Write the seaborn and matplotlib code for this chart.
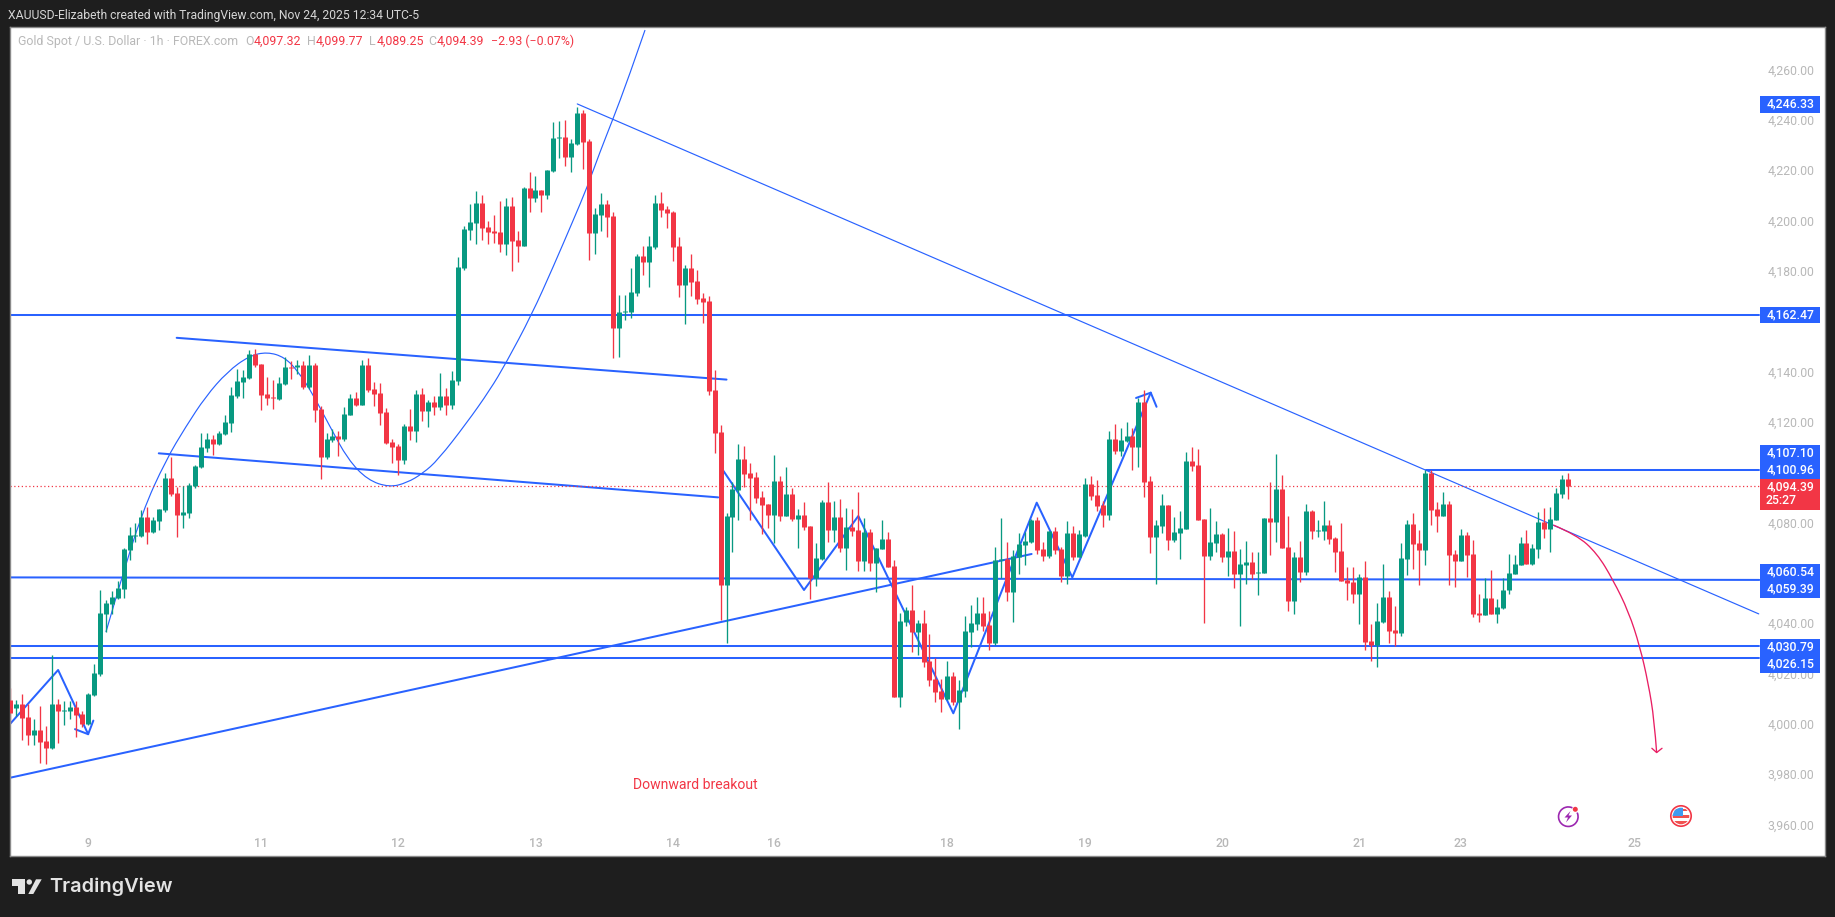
import numpy as np
import pandas as pd
import seaborn as sns
import matplotlib.pyplot as plt
from matplotlib.patches import Rectangle, Circle, Arc, Polygon, PathPatch
from matplotlib.path import Path
from matplotlib.transforms import ScaledTranslation

# hourly candles
opens = [
    4009.5, 4006.5, 4008, 4002.8, 3995.6, 3997.6, 3993.2, 3990.3, 4008, 4005.3,
    4005.3, 4006.7, 4004, 4000, 4011.5, 4019.8, 4043.7, 4047.6, 4050, 4053.6,
    4069.1, 4074.7, 4074.7, 4082.2, 4076.3, 4080.6, 4085, 4097.7, 4091.8, 4083,
    4083.8, 4094.5, 4102.1, 4109.8, 4113.2, 4111.2, 4115.2, 4119.5, 4130.3, 4135.8,
    4137.4, 4147, 4143, 4131.1, 4129.9, 4129.1, 4135, 4141.8, 4141.8, 4142.6,
    4133.8, 4142.6, 4125.1, 4106.2, 4112.8, 4114.4, 4113.2, 4122.7, 4129.5, 4126.7,
    4142.6, 4133.1, 4131.5, 4123.9, 4112, 4110.4, 4104.9, 4118.4, 4116.4, 4131.1,
    4124.3, 4127.9, 4125.9, 4130.3, 4126.7, 4136.2, 4181.1, 4196.2, 4199, 4206.9,
    4197.4, 4195.8, 4195.4, 4190.6, 4205.7, 4192.2, 4189.8, 4212.9, 4208.9, 4212.1,
    4210.1, 4219.6, 4232.6, 4233.2, 4225.2, 4230.4, 4242.7, 4231.6, 4195, 4202.2,
    4206.5, 4201.8, 4157.3, 4163.6, 4163.6, 4171.2, 4185.9, 4183.5, 4189.5, 4206.9,
    4204.5, 4203.4, 4189.8, 4174.4, 4181.1, 4176, 4169.2, 4168, 4132.6, 4116,
    4055.2, 4082.2, 4093, 4105.3, 4099.7, 4098.1, 4090.2, 4087.4, 4083, 4096.5,
    4082.6, 4091.4, 4081.4, 4083, 4078.6, 4058, 4065.5, 4088.2, 4077, 4082.2,
    4069.9, 4078.2, 4077, 4064.7, 4076.3, 4064, 4069.5, 4073.5, 4062.7, 4010.7,
    4040.5, 4045.2, 4036.5, 4040.1, 4025, 4017.8, 4013.1, 4009.9, 4019, 4008.7,
    4013.1, 4036.5, 4039.7, 4044, 4039.3, 4032.2, 4065.1, 4065.5, 4052.4, 4066.3,
    4071.1, 4072.3, 4081, 4069.5, 4066.7, 4076.7, 4069.5, 4058.8, 4075.9, 4066.3,
    4074.7, 4095.3, 4091, 4087, 4083, 4113.2, 4108.4, 4112.4, 4114.4, 4110,
    4127.9, 4096.5, 4074.3, 4078.6, 4087, 4073.1, 4075.9, 4077.4, 4104.5, 4102.9,
    4081.4, 4066.7, 4071.9, 4075.5, 4066.3, 4068.7, 4059.6, 4063.1, 4064.3, 4060,
    4060, 4081.8, 4080.2, 4093.3, 4070.3, 4048.8, 4066.3, 4060.4, 4084.6, 4076.7,
    4076.7, 4079, 4073.9, 4068.7, 4057.2, 4056.4, 4051.6, 4058.4, 4032.9, 4031.4,
    4040.5, 4050.4, 4037.3, 4036.1, 4065.5, 4079.4, 4071.9, 4069.1, 4099.7, 4085.4,
    4082.6, 4087.4, 4067.5, 4064.7, 4075.1, 4067.5, 4044.1, 4043.3, 4050, 4043.7,
    4046.1, 4053.2, 4059.6, 4063.1, 4071.9, 4063.5, 4069.5, 4080.2, 4077.4, 4081, 4091.4, 4097.32,
]
highs = [
    4014.2, 4009.5, 4012, 4007.8, 4002, 4007.1, 3999.2, 4027.4, 4010, 4009.1,
    4009.1, 4009.1, 4005.1, 4012.2, 4023.8, 4053.2, 4049.2, 4052.8, 4056.8, 4069.9,
    4078.3, 4080, 4085, 4086.2, 4082.3, 4085.4, 4099.7, 4106.2, 4094, 4094.5,
    4095.7, 4103, 4115.4, 4115.4, 4114.8, 4116.4, 4122.7, 4133.9, 4141, 4140.6,
    4148.5, 4149, 4143, 4137.8, 4136.6, 4137.8, 4145.8, 4144, 4144.6, 4144.2,
    4146.6, 4143.4, 4126.3, 4115.6, 4117.2, 4116.4, 4125.9, 4131, 4131.9, 4144.6,
    4145.2, 4135.8, 4135.3, 4125.5, 4113.2, 4111.2, 4119.2, 4125.1, 4132.7, 4133.5,
    4128.7, 4130.3, 4139.4, 4133.3, 4140.2, 4185.5, 4197.8, 4206.5, 4211.7, 4210.1,
    4199.8, 4202.2, 4207.7, 4208.9, 4209.3, 4195.8, 4213.3, 4219.2, 4217.7, 4212.1,
    4220, 4239.1, 4239.5, 4239.9, 4232.4, 4245.1, 4243.9, 4232.4, 4205, 4210.9,
    4208.1, 4203.4, 4170.4, 4170.4, 4181.1, 4186.7, 4189.8, 4193.8, 4210.1, 4211.3,
    4205.7, 4203.8, 4193.4, 4182.3, 4186.7, 4180.3, 4171.2, 4170, 4140.6, 4118.8,
    4083.7, 4096.3, 4111.2, 4110.4, 4103.7, 4100.1, 4092.5, 4087.4, 4106.8, 4098.5,
    4102.1, 4093.7, 4085.4, 4088.2, 4078.6, 4071.9, 4089, 4096.1, 4088.6, 4089.4,
    4085.8, 4085.4, 4092.1, 4081.8, 4077.4, 4069.9, 4081, 4076.3, 4065.1, 4044,
    4046.5, 4055.2, 4041.3, 4045.2, 4035.7, 4026.2, 4017.8, 4025, 4020.6, 4017.5,
    4042.9, 4047.2, 4050.4, 4050.4, 4044.9, 4070.3, 4081.8, 4072.3, 4069.1, 4075.9,
    4076.3, 4081.5, 4082.2, 4072.3, 4076.7, 4078.2, 4070.4, 4080.6, 4078.6, 4077,
    4097.7, 4098.5, 4096.9, 4088.6, 4116.4, 4119.2, 4117.6, 4120, 4117.6, 4129.4,
    4132.7, 4098.5, 4081, 4091.4, 4087, 4082.2, 4084.6, 4108, 4110, 4109.2,
    4081.4, 4085.8, 4080.6, 4075.9, 4077.8, 4076.7, 4069.5, 4072.7, 4068.3, 4068.3,
    4081.8, 4096.1, 4107.2, 4098.9, 4082.6, 4068.3, 4072.7, 4087.4, 4085, 4081,
    4088.6, 4081, 4074.3, 4079.8, 4062.3, 4062.3, 4059.6, 4064.7, 4039.7, 4048,
    4063.5, 4052.8, 4046.8, 4071.9, 4081, 4083.8, 4077, 4100.9, 4100.9, 4088.2,
    4092.1, 4088.6, 4069.1, 4077.4, 4076.3, 4073.1, 4051.6, 4058, 4061.2, 4049.6,
    4058, 4067.5, 4067.1, 4074.3, 4077, 4071.5, 4084.2, 4085.8, 4086.2, 4093.7, 4098.9, 4099.77,
]
lows = [
    4000.3, 4003.2, 3993.6, 3991.6, 3991.6, 3984.6, 3984.1, 3990, 3992.3, 3999.6,
    4002, 3994.6, 3998.7, 3999.6, 4011.1, 4019, 4036.5, 4043.7, 4049.8, 4050,
    4065, 4072.3, 4074.4, 4071.5, 4075.8, 4077, 4084.2, 4090.6, 4074.3, 4077.9,
    4081.8, 4093.7, 4101.7, 4108, 4106.8, 4110.8, 4114.8, 4116, 4129.5, 4129.5,
    4137, 4142, 4124.7, 4126.7, 4125, 4128.7, 4134.6, 4137, 4139, 4133,
    4133, 4120, 4097.4, 4105.4, 4112, 4106.4, 4112.4, 4122.7, 4126.3, 4126.7,
    4132, 4126.3, 4118.8, 4111.2, 4103.8, 4099, 4103.3, 4112.8, 4112, 4120.3,
    4118, 4122.7, 4124.7, 4122.7, 4125.1, 4134.6, 4180.3, 4192.2, 4190.6, 4192.2,
    4190.6, 4191, 4187.5, 4186.3, 4179.9, 4183.5, 4189.8, 4203.4, 4207.3, 4203.4,
    4208.5, 4219.2, 4224.8, 4221.6, 4219.2, 4230, 4220.4, 4184.3, 4186.7, 4195.8,
    4193.4, 4145.4, 4145.8, 4160.4, 4161.2, 4170, 4178.3, 4173.6, 4188.7, 4201.4,
    4197, 4183.9, 4169.6, 4158.9, 4170, 4166.8, 4159.3, 4130.7, 4107.8, 4041.3,
    4032.2, 4068.3, 4081, 4094.3, 4081, 4087.8, 4075.5, 4077.8, 4071.9, 4080.6,
    4082.6, 4080.6, 4069.9, 4077, 4049.6, 4054.8, 4065.1, 4072.3, 4072.3, 4068.3,
    4061.2, 4074.7, 4060.8, 4060.8, 4060.8, 4052.4, 4069.5, 4062.3, 4010.7, 4006.7,
    4038.9, 4028.6, 4027.4, 4022.6, 4015.1, 4008.7, 4004.7, 4009.5, 4007.5, 3998,
    4010.7, 4030.7, 4037.3, 4036.9, 4029.4, 4031.4, 4057.8, 4048.8, 4040.5, 4059.6,
    4063.1, 4071.9, 4067.5, 4064.7, 4065.9, 4067.5, 4056.4, 4055.6, 4065.1, 4066.3,
    4074.3, 4089, 4084.6, 4078.2, 4081, 4107.2, 4106.4, 4112, 4100.9, 4102.1,
    4090.3, 4067.9, 4055.6, 4075.8, 4069.1, 4072.3, 4065.5, 4077.4, 4100.5, 4081,
    4040.1, 4065.1, 4068.3, 4064.3, 4058.8, 4054, 4038.9, 4055.6, 4057.6, 4051.2,
    4060, 4067.1, 4072.3, 4069.9, 4044.9, 4043.7, 4056.4, 4059.2, 4073.5, 4074.3,
    4073.1, 4071.5, 4060.4, 4056.8, 4049.2, 4048, 4039.7, 4029.4, 4025, 4022.6,
    4040.1, 4032.2, 4031, 4035, 4059.2, 4061.6, 4055.2, 4063.1, 4079, 4076.3,
    4082.6, 4055.2, 4054.4, 4064.7, 4058.4, 4042.5, 4040.5, 4043.3, 4043.7, 4040.1,
    4045.7, 4051.6, 4059.6, 4063.1, 4063.5, 4063.1, 4065.9, 4073.9, 4068.3, 4081, 4089.8, 4089.25,
]
closes = [
    4004.5, 4007.9, 4002.5, 3995.6, 3997.6, 3992.8, 3990.6, 4008, 4005.1, 4005.6,
    4006.7, 4003.5, 4000, 4011.9, 4020.2, 4044, 4048, 4050.4, 4054, 4069.5,
    4075.1, 4075.1, 4082.2, 4076.3, 4081, 4085.4, 4097.7, 4091.4, 4083, 4084.2,
    4095, 4102.5, 4110, 4113.2, 4111.2, 4115.6, 4120, 4130.7, 4136.2, 4137.8,
    4147, 4142.6, 4130.7, 4129.5, 4129.6, 4135.4, 4141.8, 4141.5, 4142.6, 4133.8,
    4142.6, 4124.7, 4106.2, 4113.2, 4114.4, 4113.2, 4123.1, 4129.5, 4126.7, 4142.6,
    4132.7, 4131.1, 4123.5, 4111.6, 4110, 4104.9, 4118.4, 4116.4, 4131.1, 4124.3,
    4127.9, 4125.9, 4130.3, 4126.7, 4136.6, 4181.5, 4196.6, 4199.4, 4206.9, 4197,
    4195.4, 4195, 4190.6, 4205.7, 4191.8, 4189.8, 4212.9, 4208.9, 4212.1, 4210.1,
    4220, 4232.8, 4233.2, 4225.2, 4230.8, 4242.7, 4231.2, 4195, 4202.6, 4206.5,
    4201.4, 4157.3, 4163.6, 4164, 4171.6, 4185.9, 4183.5, 4189.8, 4206.9, 4204.2,
    4203, 4189.5, 4174.4, 4181.1, 4175.5, 4168.8, 4167.6, 4132.2, 4115.7, 4055.2,
    4082.6, 4093.3, 4105.3, 4099.3, 4097.7, 4089.8, 4087, 4083, 4096.5, 4082.6,
    4091.4, 4081.4, 4083, 4078.2, 4058, 4065.9, 4088.2, 4077, 4082.2, 4069.9,
    4078.2, 4076.7, 4064.7, 4076.3, 4064, 4069.9, 4073.5, 4062.3, 4010.7, 4040.9,
    4045.2, 4036.5, 4040.1, 4024.6, 4017.4, 4012.7, 4009.9, 4019, 4008.7, 4013.5,
    4037, 4040.1, 4044, 4038.9, 4032.2, 4065.1, 4065.5, 4052.4, 4066.7, 4071.5,
    4072.7, 4081, 4069.1, 4066.7, 4076.7, 4069.1, 4058.8, 4075.9, 4066.3, 4075.5,
    4095.3, 4090.6, 4086.6, 4083, 4113.2, 4108.4, 4112.8, 4114.4, 4110, 4127.9,
    4096.3, 4074.3, 4079, 4087, 4073.1, 4076.3, 4077.8, 4104.5, 4102.5, 4081,
    4066.7, 4072.3, 4075.5, 4066.3, 4068.7, 4059.6, 4063.5, 4064.3, 4059.6, 4060.4,
    4081.8, 4080.2, 4093.3, 4069.9, 4048.8, 4066.3, 4060.4, 4084.6, 4076.7, 4077,
    4079, 4073.5, 4068.3, 4056.8, 4056, 4051.6, 4058.4, 4032.5, 4031.4, 4040.9,
    4050.4, 4036.9, 4036.1, 4065.9, 4079.4, 4071.5, 4069.1, 4099.7, 4085, 4082.6,
    4087.4, 4067.1, 4064.7, 4075.1, 4067.1, 4043.7, 4043.3, 4050, 4043.7, 4046.5,
    4053.2, 4060, 4063.5, 4071.9, 4063.5, 4069.9, 4080.2, 4077.4, 4081.4, 4091.8, 4097.3, 4094.39,
]

# axis labels
day_bars = [13, 42, 65, 88, 111, 128, 157, 180, 203, 226, 243, 272]
day_labels = ["9", "11", "12", "13", "14", "16", "18", "19", "20", "21", "23", "25"]
price_ticks = list(range(3960, 4261, 20))
hidden_ticks = [4160, 4100, 4060]  # sit under the price boxes in the original

# drawings on the chart, as (bar, price)
levels = [4162.47, 4030.79, 4026.15]
mid_level_x = [0, 293]
mid_level_y = [4058.2, 4057.2]
res_level_x = [237.1, 293]
res_level_y = [4100.96, 4100.96]
uptrend_x = [0, 171.1]
uptrend_y = [3978.6, 4067.5]
channel_top_x = [27.9, 120]
channel_top_y = [4153.4, 4136.8]
channel_bot_x = [24.9, 118.6]
channel_bot_y = [4107.5, 4090]
downtrend_x = [95, 292.9]
downtrend_y = [4246.33, 4043.7]
arc_x = [16.05, 18.17, 22.14, 26.11, 29.43, 32.73, 36.38, 40.02, 43.07, 45.98, 48.29,
         50.62, 53.58, 56.57, 59.88, 63.52, 66.48, 69.16, 71.67, 76.43, 80.38, 83.05,
         87.35, 90.99, 94.34, 96.58, 98.81, 100.94, 103.45, 106.35]
arc_y = [4036.5, 4053.9, 4084.3, 4104.9, 4118.1, 4130, 4139.9, 4146.2, 4147.8, 4145.7, 4139.9,
         4131.4, 4118.1, 4105.1, 4096.9, 4094, 4095.8, 4099.6, 4104.9, 4119.4, 4132.7, 4143.3,
         4162.5, 4181.7, 4200.2, 4212.8, 4227.3, 4240.1, 4255.8, 4275.7]
zig1_x = [0, 8.04, 13.07]
zig1_y = [4000, 4021.4, 3995.9]
zig1_head_x = [10.87, 13.07, 13.94]
zig1_head_y = [3997.9, 3995.9, 4001.3]
zig2_x = [119.37, 132.98, 142.08, 157.99, 171.96, 177.92, 191.06]
zig2_y = [4100.9, 4053.2, 4082.6, 4004.2, 4087.9, 4058.2, 4131.6]
zig2_head_x = [188.6, 191.06, 192.03]
zig2_head_y = [4129.5, 4131.6, 4126]
pink_x = [258.5, 262.4, 265.8, 268.5, 271.1, 273, 274.4, 275.4, 275.8]
pink_y = [4079, 4075.1, 4067.8, 4057.2, 4044.6, 4030.7, 4016.1, 4001.6, 3988.6]
pink_head_x = [275, 275.8, 276.7]
pink_head_y = [3990.3, 3988.6, 3990.3]

last_price = 4094.39
GREEN = "#089981"
RED = "#F23645"
BLUE = "#2962FF"
PINK = "#E91E63"
DARK = "#1E1E1E"
GREY = "#B8B8B8"


def draw_path(ax, xs, ys, color=BLUE, lw=1.45, **kw):
    sns.lineplot(x=xs, y=ys, color=color, lw=lw, sort=False, estimator=None,
                 zorder=1, legend=False, ax=ax, **kw)


def draw_curve(ax, xs, ys, color=BLUE, lw=0.85):
    # the freehand arcs: the read points steer a smooth quadratic curve
    pts = np.column_stack([xs, ys])
    verts = [pts[0]]
    codes = [Path.MOVETO]
    for k in range(1, len(pts) - 1):
        end = pts[-1] if k == len(pts) - 2 else (pts[k] + pts[k + 1]) / 2
        verts += [pts[k], end]
        codes += [Path.CURVE3, Path.CURVE3]
    ax.add_patch(PathPatch(Path(verts, codes), fill=False, ec=color, lw=lw, zorder=1))


sns.set_theme(style="white")
plt.rcParams["font.family"] = ["Roboto", "DejaVu Sans"]

W, H = 1835, 917
fig = plt.figure(figsize=(W / 100, H / 100), dpi=100, facecolor=DARK)
ax = fig.add_axes([10 / W, 1 - 856 / H, 1815 / W, 829 / H], facecolor="white")

# drawings first, the candles sit on top of them
for lv in levels:
    draw_path(ax, [0, 293], [lv, lv])
draw_path(ax, mid_level_x, mid_level_y)
draw_path(ax, res_level_x, res_level_y)
draw_path(ax, uptrend_x, uptrend_y)
draw_path(ax, channel_top_x, channel_top_y)
draw_path(ax, channel_bot_x, channel_bot_y)
draw_path(ax, downtrend_x, downtrend_y, lw=0.85)
draw_curve(ax, arc_x, arc_y)
draw_path(ax, zig1_x, zig1_y)
draw_path(ax, zig1_head_x, zig1_head_y)
draw_path(ax, zig2_x, zig2_y)
draw_path(ax, zig2_head_x, zig2_head_y)
draw_curve(ax, pink_x, pink_y, color=PINK, lw=0.95)
draw_path(ax, pink_head_x, pink_head_y, color=PINK, lw=0.95)
draw_path(ax, [0, 293], [last_price, last_price], color=RED, lw=0.9, linestyle=(0, (1, 2)))

df = pd.DataFrame({"bar": np.arange(len(opens)), "open": opens, "high": highs, "low": lows, "close": closes})
df["dir"] = np.where(df["close"] >= df["open"], "up", "down")
colors = {"up": GREEN, "down": RED}

wicks = df.melt(id_vars=["bar", "dir"], value_vars=["low", "high"], value_name="price")
bodies = df.melt(id_vars=["bar", "dir"], value_vars=["open", "close"], value_name="price")
sns.lineplot(data=wicks, x="bar", y="price", hue="dir", units="bar", estimator=None, palette=colors,
             lw=0.95, legend=False, zorder=2, solid_capstyle="butt", ax=ax)
sns.lineplot(data=bodies, x="bar", y="price", hue="dir", units="bar", estimator=None, palette=colors,
             lw=3.6, legend=False, zorder=3, solid_capstyle="butt", ax=ax)

ax.text(114.7, 3975.7, "Downward breakout", color=RED, fontsize=10.1, ha="center", va="center")

ax.set_xlim(-0.02, 304)
ax.set_ylim(3947.5, 4276.9)
ax.set_xlabel("")
ax.set_ylabel("")
ax.yaxis.tick_right()
ax.set_yticks(price_ticks)
ax.set_yticklabels(["" if p in hidden_ticks else f"{p:,.2f}" for p in price_ticks],
                   ha="right", color=GREY, fontsize=8.8)
nudge = ScaledTranslation(0, 1 / 100, fig.dpi_scale_trans)
for lab in ax.get_yticklabels():
    lab.set_transform(lab.get_transform() + nudge)
ax.set_xticks(day_bars)
ax.set_xticklabels(day_labels, color=GREY, fontsize=8.8, fontweight="medium")
ax.tick_params(axis="y", length=0, pad=-7.7)
ax.tick_params(axis="x", length=0, pad=-13.5)
for s in ax.spines.values():
    s.set_color("#8A8A8A")
    s.set_linewidth(1)

# screenshot furniture, in pixels of the picture
ov = fig.add_axes([0, 0, 1, 1])
ov.set_xlim(0, W)
ov.set_ylim(H, 0)
ov.axis("off")
ov.patch.set_alpha(0)

ov.text(8, 15, "XAUUSD-Elizabeth created with TradingView.com, Nov 24, 2025 12:34 UTC-5",
        color="#D6D6D6", fontsize=8.75, va="center")
ov.text(18, 41.5, "Gold Spot / U.S. Dollar · 1h · FOREX.com", color=GREY, fontsize=8.9, va="center")
legend_bits = [(245, "O", GREY), (254, "4,097.32", RED), (307, "H", GREY), (315.7, "4,099.77", RED),
               (369.4, "L", GREY), (376.3, "4,089.25", RED), (428.7, "C", GREY), (436.7, "4,094.39", RED),
               (491, "−2.93 (−0.07%)", RED)]
for x, s, c in legend_bits:
    ov.text(x, 41.5, s, color=c, fontsize=8.9, va="center")

# price labels on the scale
boxes = [(96, 112.7, BLUE), (307, 323, BLUE), (445, 479.3, BLUE), (479.3, 509.5, RED),
         (564.3, 597.7, BLUE), (639.3, 672.7, BLUE)]
for y0, y1, c in boxes:
    ov.add_patch(Rectangle((1760, y0), 60, y1 - y0, color=c, lw=0, zorder=3))
box_labels = [("4,246.33", 104), ("4,162.47", 315), ("4,107.10", 452.7), ("4,100.96", 470),
              ("4,094.39", 487), ("25:27", 500.5), ("4,060.54", 571.7), ("4,059.39", 588.7),
              ("4,030.79", 646.7), ("4,026.15", 663.7)]
for s, y in box_labels:
    ov.text(1814.3 if s != "25:27" else 1796.5, y, s, color="white", fontsize=8.8, ha="right", va="center",
            fontweight="medium", zorder=4)

# TradingView logo
ov.add_patch(Polygon([(12, 879.3), (25, 879.3), (25, 894), (17.7, 894), (17.7, 886), (12, 886)], color="#E3E3E3", lw=0))
ov.add_patch(Circle((29.3, 882), 2.7, color="#E3E3E3", lw=0))
ov.add_patch(Polygon([(36, 879.3), (41.7, 879.3), (33.3, 894), (28.3, 894)], color="#E3E3E3", lw=0))
ov.text(49, 886.5, "TradingView", color="#E3E3E3", fontsize=14.4, fontweight="semibold", va="center",
        family=["Inter", "DejaVu Sans"])

# event icons
ov.add_patch(Arc((1568.3, 816.7), 19.5, 19.5, theta1=-25, theta2=295, color="#9C27B0", lw=1.2))
ov.add_patch(Polygon([(1570.5, 811), (1564.5, 817.5), (1568, 817.5), (1566, 822.5), (1572, 815.5), (1568.5, 815.5)],
                     color="#9C27B0", lw=0))
ov.add_patch(Circle((1575.3, 809.3), 2.5, color=RED, lw=0))

flag_clip = Circle((1681, 816), 8.3, transform=ov.transData)
ov.add_patch(Circle((1681, 816), 10.2, fill=False, ec=RED, lw=1.2))
ov.add_patch(Circle((1681, 816), 8.3, color="white", lw=0))
for y0, hh in [(809, 2.2), (815, 2.8), (820.5, 4.5)]:
    r = Rectangle((1672, y0), 18, hh, color="#F0514F", lw=0)
    ov.add_patch(r)
    r.set_clip_path(flag_clip)
r = Rectangle((1672, 807), 10.5, 8.5, color="#3F9BF0", lw=0)
ov.add_patch(r)
r.set_clip_path(flag_clip)

fig.savefig("out.png", dpi=100, facecolor=DARK)
